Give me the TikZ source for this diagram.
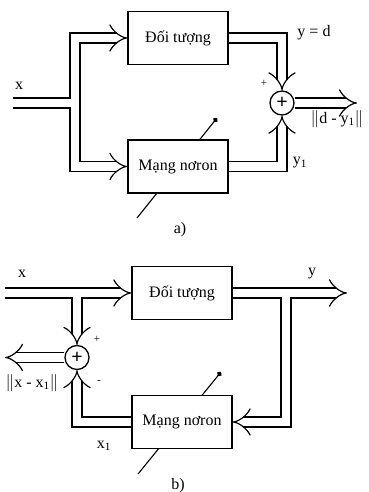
\documentclass[tikz,border=0pt]{standalone}
\usepackage{fontspec}
\setmainfont{Liberation Serif}
\usetikzlibrary{arrows.meta,calc,backgrounds}
\begin{document}
\begin{tikzpicture}[x=1pt, y=-1pt, >={Implies[scale=1.3]}, font=\fontsize{16}{19}\selectfont,
   blk/.style={rectangle, draw, line width=1.3pt, fill=white, minimum width=100pt, minimum height=53pt, inner sep=0pt},
   sm/.style={circle, draw, line width=1.3pt, fill=white, minimum size=24pt, inner sep=0pt, font=\fontsize{20}{20}\selectfont\bfseries},
   dl/.style={double, double distance=8.7pt, line width=1.2pt},
   tw/.style={line width=1.1pt, -{Circle[length=5pt]}},
   sg/.style={font=\fontsize{11}{12}\selectfont}]
\useasboundingbox (0,0) rectangle (368,492);
\node[blk] (PA) at (178,38) {Đối tượng};
\node[blk] (NA) at (178,166.5) {Mạng nơron};
\node[sm] (SA) at (282,103) {+};
\coordinate (inA) at (13,103);
\coordinate (jA) at (75,103);
\coordinate (outA) at (357,103);
\draw[dl, <->] (PA.west) -| (jA) |- (NA.west);
\draw[dl] (inA) -- ($(jA)+(-4.35,0)$);
\draw[dl, ->] (PA.east) -| (SA.north);
\draw[dl, ->] (NA.east) -| (SA.south);
\draw[dl, ->] (SA.east) -- (outA);
\coordinate (ta1) at (137,218); \coordinate (ta2) at (217,118);
\begin{scope}[on background layer]
\draw[tw] (ta1) -- (ta2);
\end{scope}
\node (lxA) at (19,86) {x};
\node (lyA) at (314,33) {y = d};
\node[sg] (lpA) at (264,83) {+};
\node (lnA) at (337,119) {$\|$d - y\textsubscript{1}$\|$};
\node (ly1) at (300,163) {y\textsubscript{1}};
\node (la) at (180,230) {a)};
\node[blk] (PB) at (182,293) {Đối tượng};
\node[blk] (NB) at (182,422) {Mạng nơron};
\node[sm] (SB) at (77,357.5) {+};
\coordinate (inB) at (5,293);
\coordinate (jB) at (77,293);
\coordinate (kB) at (286,293);
\coordinate (outB) at (347,293);
\coordinate (errB) at (5,357.5);
\draw[dl, ->] (inB) -- (PB.west);
\draw[dl, ->] ($(jB)+(0,4.35)$) -- (SB.north);
\draw[dl, ->] (PB.east) -- (outB);
\draw[dl, ->] ($(kB)+(0,4.35)$) |- (NB.east);
\draw[dl, ->] (NB.west) -| (SB.south);
\draw[dl, ->] (SB.west) -- (errB);
\coordinate (tb1) at (138,474); \coordinate (tb2) at (221,372);
\begin{scope}[on background layer]
\draw[tw] (tb1) -- (tb2);
\end{scope}
\node (lxB) at (22,274) {x};
\node (lyB) at (312,274) {y};
\node[sg] (lpB) at (97,339) {+};
\node[sg] (lmB) at (99,382) {-};
\node (lnB) at (32,383) {$\|$x - x\textsubscript{1}$\|$};
\node (lx1) at (104,446) {x\textsubscript{1}};
\node (lb) at (178,486) {b)};
\end{tikzpicture}
\end{document}
